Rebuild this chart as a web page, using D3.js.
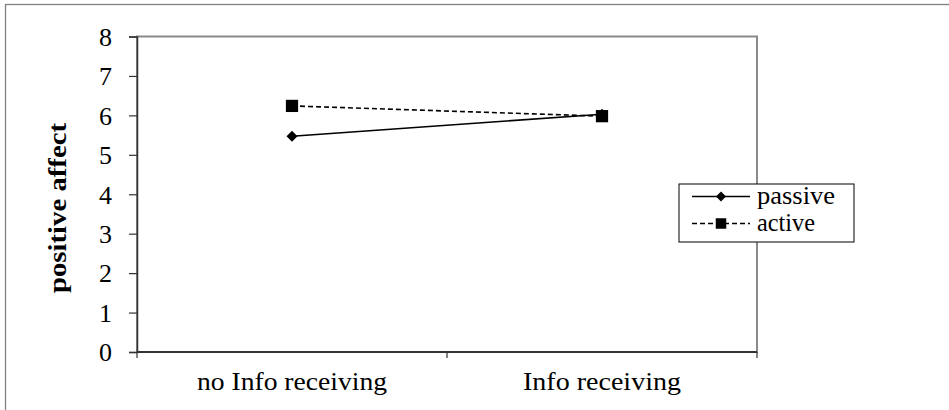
<!DOCTYPE html>
<html>
<head>
<meta charset="utf-8">
<script src="https://cdn.jsdelivr.net/npm/d3@7"></script>
<style>
  html, body { margin: 0; padding: 0; background: #fff; }
</style>
</head>
<body>
<svg id="chart" width="949" height="410" font-family="Liberation Serif"></svg>
<script>
// Conditions along the x axis
const categories = ["no Info receiving", "Info receiving"];
// Mean positive affect per condition
const passiveValues = [5.47, 6.03];
const activeValues = [6.24, 5.98];
const seriesNames = ["passive", "active"];
const yTicks = [0, 1, 2, 3, 4, 5, 6, 7, 8];
const yLabel = "positive affect";

const FONT = "Liberation Serif";
const FS = 26;

const svg = d3.select("#chart");
const W = 949, H = 410;

// Outer chart frame
svg.append("rect")
  .attr("x", 5.5).attr("y", 4.5)
  .attr("width", W + 10).attr("height", H + 10)
  .attr("fill", "#fff").attr("stroke", "#808080").attr("stroke-width", 1.3);

const plot = { left: 137, right: 757, top: 36.5, bottom: 352 };

const x = d3.scaleBand().domain(categories).range([plot.left, plot.right]);
const y = d3.scaleLinear().domain([0, 8]).range([plot.bottom, plot.top]);

// Plot area border
svg.append("rect")
  .attr("x", plot.left).attr("y", plot.top)
  .attr("width", plot.right - plot.left).attr("height", plot.bottom - plot.top)
  .attr("fill", "none").attr("stroke", "#8a8a8a").attr("stroke-width", 2);

// Y axis
const yAxis = d3.axisLeft(y).tickValues(yTicks).tickSize(8).tickPadding(17).tickFormat(d3.format("d"));
const gy = svg.append("g").attr("transform", `translate(${plot.left},0)`).call(yAxis);
gy.attr("font-family", FONT).attr("font-size", FS);
gy.select(".domain").attr("stroke", "#333").attr("stroke-width", 1.5);
gy.selectAll(".tick line").attr("stroke", "#333").attr("stroke-width", 1.2);
gy.selectAll(".tick text")
  .attr("font-family", FONT)
  .attr("font-size", FS).attr("fill", "#000")
  .attr("dy", "0.34em");

// X axis: tick marks sit on band boundaries, labels at band centres
const gx = svg.append("g").attr("transform", `translate(0,${plot.bottom})`);
gx.append("line")
  .attr("x1", plot.left).attr("x2", plot.right)
  .attr("stroke", "#333").attr("stroke-width", 2);
const boundaries = categories.map(c => x(c)).concat([x(categories[categories.length - 1]) + x.bandwidth()]);
gx.selectAll("line.tick").data(boundaries).join("line")
  .attr("class", "tick")
  .attr("x1", d => d).attr("x2", d => d)
  .attr("y1", 0).attr("y2", 6)
  .attr("stroke", "#333").attr("stroke-width", 1.2);
const xLabelLen = [190, 158];
gx.selectAll("text").data(categories).join("text")
  .attr("x", d => x(d) + x.bandwidth() / 2)
  .attr("y", 38)
  .attr("text-anchor", "middle")
  .attr("font-family", FONT)
  .attr("font-size", FS)
  .attr("fill", "#000")
  .attr("textLength", (d, i) => xLabelLen[i])
  .attr("lengthAdjust", "spacingAndGlyphs")
  .text(d => d);

// Y axis title
svg.append("text")
  .attr("transform", `translate(66,208) rotate(-90)`)
  .attr("text-anchor", "middle")
  .attr("font-family", FONT)
  .attr("font-size", FS).attr("font-weight", "bold")
  .attr("fill", "#000")
  .attr("textLength", 170)
  .attr("lengthAdjust", "spacingAndGlyphs")
  .text(yLabel);

const cx = c => x(c) + x.bandwidth() / 2;
const line = d3.line().x(d => cx(d.cat)).y(d => y(d.v));

const passive = categories.map((c, i) => ({ cat: c, v: passiveValues[i] }));
const active = categories.map((c, i) => ({ cat: c, v: activeValues[i] }));

// Active series (dashed, squares)
svg.append("path").datum(active)
  .attr("d", line).attr("fill", "none")
  .attr("stroke", "#000").attr("stroke-width", 1.6).attr("stroke-dasharray", "5,3");
svg.selectAll("path.sq").data(active).join("path")
  .attr("class", "sq")
  .attr("transform", d => `translate(${cx(d.cat)},${y(d.v)})`)
  .attr("d", d3.symbol().type(d3.symbolSquare).size(150))
  .attr("fill", "#000");

// Passive series (solid, diamonds)
svg.append("path").datum(passive)
  .attr("d", line).attr("fill", "none")
  .attr("stroke", "#000").attr("stroke-width", 1.6);
svg.selectAll("path.dm").data(passive).join("path")
  .attr("class", "dm")
  .attr("transform", d => `translate(${cx(d.cat)},${y(d.v)}) rotate(45)`)
  .attr("d", d3.symbol().type(d3.symbolSquare).size(60))
  .attr("fill", "#000");

// Legend
const lg = svg.append("g").attr("transform", "translate(679,184)");
lg.append("rect")
  .attr("width", 175).attr("height", 58)
  .attr("fill", "#fff").attr("stroke", "#000").attr("stroke-width", 1);
const rows = [
  { name: seriesNames[0], dash: null, marker: "diamond", len: 78 },
  { name: seriesNames[1], dash: "5,3", marker: "square", len: 58 }
];
rows.forEach((r, i) => {
  const ry = 12.5 + i * 27;
  lg.append("line")
    .attr("x1", 13).attr("x2", 71).attr("y1", ry).attr("y2", ry)
    .attr("stroke", "#000").attr("stroke-width", 1.5)
    .attr("stroke-dasharray", r.dash);
  if (r.marker === "diamond") {
    lg.append("path")
      .attr("transform", `translate(42,${ry}) rotate(45)`)
      .attr("d", d3.symbol().type(d3.symbolSquare).size(50))
      .attr("fill", "#000");
  } else {
    lg.append("path")
      .attr("transform", `translate(42,${ry})`)
      .attr("d", d3.symbol().type(d3.symbolSquare).size(110))
      .attr("fill", "#000");
  }
  lg.append("text")
    .attr("x", 78).attr("y", ry + 7)
    .attr("font-family", FONT)
    .attr("font-size", FS)
    .attr("fill", "#000")
    .attr("textLength", r.len)
    .attr("lengthAdjust", "spacingAndGlyphs")
    .text(r.name);
});
</script>
</body>
</html>
